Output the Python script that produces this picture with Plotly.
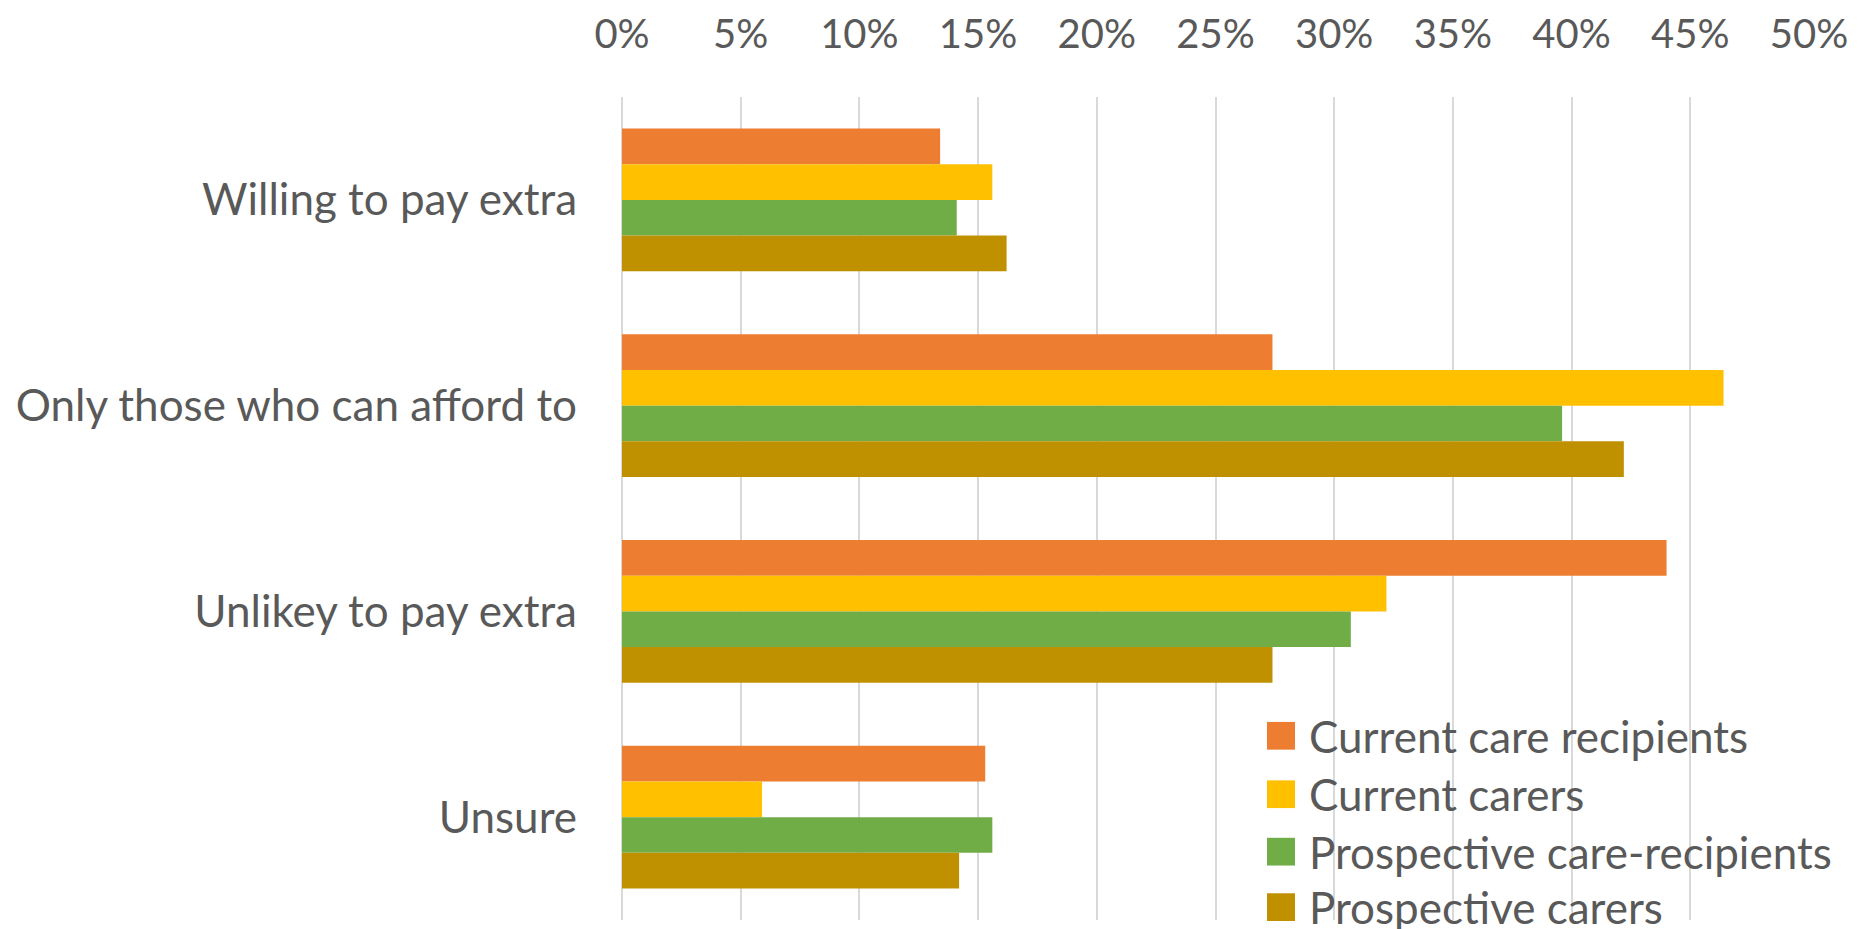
import plotly.graph_objects as go

categories = ["Willing to pay extra", "Only those who can afford to", "Unlikey to pay extra", "Unsure"]
series_names = ["Current care recipients", "Current carers", "Prospective care-recipients", "Prospective carers"]
current_care_recipients = [13.4, 27.4, 44.0, 15.3]
current_carers = [15.6, 46.4, 32.2, 5.9]
prospective_care_recipients = [14.1, 39.6, 30.7, 15.6]
prospective_carers = [16.2, 42.2, 27.4, 14.2]
tick_values = [0, 5, 10, 15, 20, 25, 30, 35, 40, 45, 50]
tick_labels = [f"{v}%" for v in tick_values]

series_values = [current_care_recipients, current_carers, prospective_care_recipients, prospective_carers]
colors = ["#ED7D31", "#FFC000", "#70AD47", "#BF9000"]

W, H = 1858, 929
L, R, T, B = 622, 49, 89, 9
FONT = "Lato"
TXT = "#595959"

fig = go.Figure()
for name, vals, col in zip(series_names, series_values, colors):
    fig.add_trace(go.Bar(y=categories, x=vals, name=name, orientation="h",
                         marker=dict(color=col, line=dict(width=0)), showlegend=False))

# manual legend (large square swatches like the source)
pw = W - L - R
ph = H - T - B
leg_rows_px = [734, 793, 851, 907]
sq = 28
sq_left = 1267
txt_left = 1307
shapes = []
annotations = []
for name, col, yc in zip(series_names, colors, leg_rows_px):
    x0 = (sq_left - L) / pw
    x1 = (sq_left + sq - L) / pw
    y0 = (H - B - (yc + sq / 2)) / ph
    y1 = (H - B - (yc - sq / 2)) / ph
    shapes.append(dict(type="rect", xref="paper", yref="paper", x0=x0, x1=x1, y0=y0, y1=y1,
                       fillcolor=col, line=dict(width=0), layer="above"))
    annotations.append(dict(xref="paper", yref="paper", x=(txt_left - L) / pw, y=(H - B - yc) / ph,
                            text=name, showarrow=False, xanchor="left", yanchor="middle",
                            font=dict(family=FONT, size=44, color=TXT)))

fig.update_layout(
    width=W, height=H,
    margin=dict(l=L, r=R, t=T, b=B),
    paper_bgcolor="white", plot_bgcolor="white",
    barmode="group", bargap=0.306, bargroupgap=0,
    font=dict(family=FONT, size=44, color=TXT),
    shapes=shapes, annotations=annotations,
    xaxis=dict(side="top", range=[0, 50], tickvals=tick_values, ticktext=tick_labels,
               showgrid=True, gridcolor="#d9d9d9", gridwidth=2,
               zeroline=True, zerolinecolor="#d9d9d9", zerolinewidth=2,
               showline=False, ticks="", ticklabelstandoff=40,
               tickfont=dict(family=FONT, size=40, color=TXT)),
    yaxis=dict(autorange="reversed", showgrid=False, zeroline=False, showline=False,
               ticks="", ticklabelstandoff=44,
               tickfont=dict(family=FONT, size=44, color=TXT)),
)

fig.write_html("out.html")
